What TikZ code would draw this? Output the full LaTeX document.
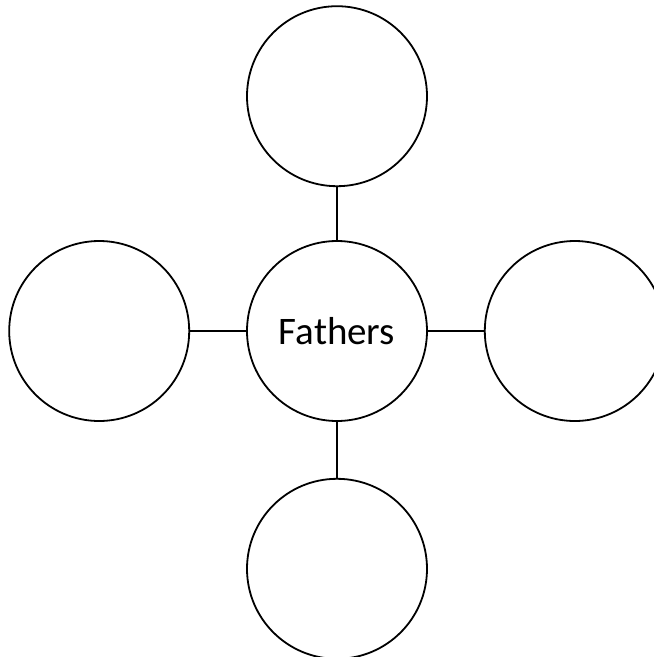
\documentclass[tikz,border=0pt]{standalone}
\usepackage{fontspec}
\setmainfont{Carlito}
\usepackage{tikz}
\usetikzlibrary{positioning}

\begin{document}
\begin{tikzpicture}[
    x=1pt,y=1pt,
    node distance=53pt and 56pt,
    bubble/.style={circle,draw=black,line width=1.8pt,fill=white,
                   minimum size=180pt,inner sep=0pt,
                   font=\fontsize{39}{47}\selectfont},
    link/.style={black,line width=1.8pt}]

    \useasboundingbox (0,0) rectangle (654,-657);

    \node[bubble] (hub) at (337,-331) {Fathers};
    \node[bubble,above=of hub] (up) {};
    \node[bubble,left=of hub] (west) {};
    \node[bubble,right=of hub] (east) {};
    \node[bubble,below=56pt of hub] (down) {};

    \draw[link] (hub) -- (up);
    \draw[link] (hub) -- (west);
    \draw[link] (hub) -- (east);
    \draw[link] (hub) -- (down);
  \end{tikzpicture}
\end{document}
